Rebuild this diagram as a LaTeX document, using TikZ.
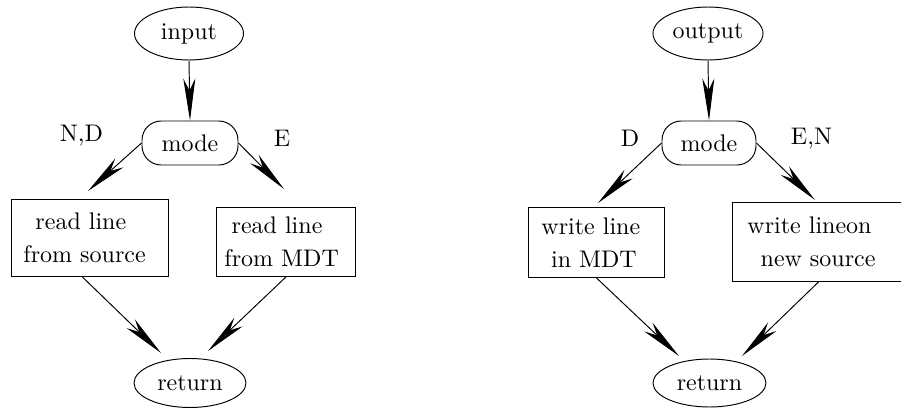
\documentclass[tikz,border=0pt]{standalone}
\usetikzlibrary{arrows.meta,shapes.geometric}
\def\u{0.4167pt}
\tikzset{
  x=0.4167pt, y=-0.4167pt,
  oval/.style={draw, ellipse, inner sep=0pt},
  modebox/.style={draw, rounded corners=8pt, inner sep=0pt, minimum width=96*\u, minimum height=44*\u},
  stepbox/.style={draw, inner ysep=0pt, align=left},
  lbl/.style={anchor=base, inner sep=0pt},
  flow/.style={-{Stealth[length=17.5pt,width=5pt,inset=5pt]}, line width=0.4pt},
}
\begin{document}
\begin{tikzpicture}
\useasboundingbox (0,0) rectangle (901,408);
\clip (0,0) rectangle (901,408);
% ---------- left ----------
\node[oval, minimum width=109*\u, minimum height=53*\u] (in) at (189,33.5) {input};
\node[modebox] (m1) at (190,143) {mode};
\node[stepbox, inner xsep=12*\u, text width=133*\u, minimum height=77*\u, anchor=north west] (b1) at (11,199)
  {\hspace*{5pt}read line\\[1.8pt]from source};
\node[stepbox, inner xsep=8*\u, text width=123*\u, minimum height=69*\u, anchor=north west] (b2) at (216,207)
  {\hspace*{3pt}read line\\[1.8pt]from MDT};
\node[oval, minimum width=112*\u, minimum height=49*\u] (r1) at (190,383) {return};
\node[lbl] (ld1) at (81.5,141) {N,D};
\node[lbl] (le1) at (282,146) {E};
\coordinate (t1) at (88,191);
\coordinate (t2) at (284,189);
\coordinate (t3) at (161,353);
\coordinate (t4) at (208,351);
\draw[flow] (in.south) -- (m1.north);
\draw[flow] (m1.west) -- (t1);
\draw[flow] (m1.east) -- (t2);
\draw[flow] (b1.259) -- (t3);
\draw[flow] (b2.south) -- (t4);
% ---------- right ----------
\node[oval, minimum width=110*\u, minimum height=53*\u] (out) at (708,33.5) {output};
\node[modebox, minimum width=94*\u] (m2) at (709,143) {mode};
\node[stepbox, inner xsep=13*\u, text width=110*\u, minimum height=70*\u, anchor=north west] (b3) at (528,207)
  {write line\\[1.8pt]\hspace*{4pt}in MDT};
\node[stepbox, inner xsep=15*\u, text width=142*\u, minimum height=79*\u, anchor=north west] (b4) at (732,202)
  {write lineon\\[1.8pt]\hspace*{5.5pt}new source};
\node[oval, minimum width=113*\u, minimum height=48*\u] (r2) at (709.5,383) {return};
\node[lbl] (ld2) at (630,146) {D};
\node[lbl] (le2) at (811.5,144) {E,N};
\coordinate (t5) at (598,203);
\coordinate (t6) at (815,200);
\coordinate (t7) at (679,356);
\coordinate (t8) at (742,356);
\draw[flow] (out.south) -- (m2.north);
\draw[flow] (m2.west) -- (t5);
\draw[flow] (m2.east) -- (t6);
\draw[flow] (b3.south) -- (t7);
\draw[flow] (b4.south) -- (t8);
\end{tikzpicture}
\end{document}
